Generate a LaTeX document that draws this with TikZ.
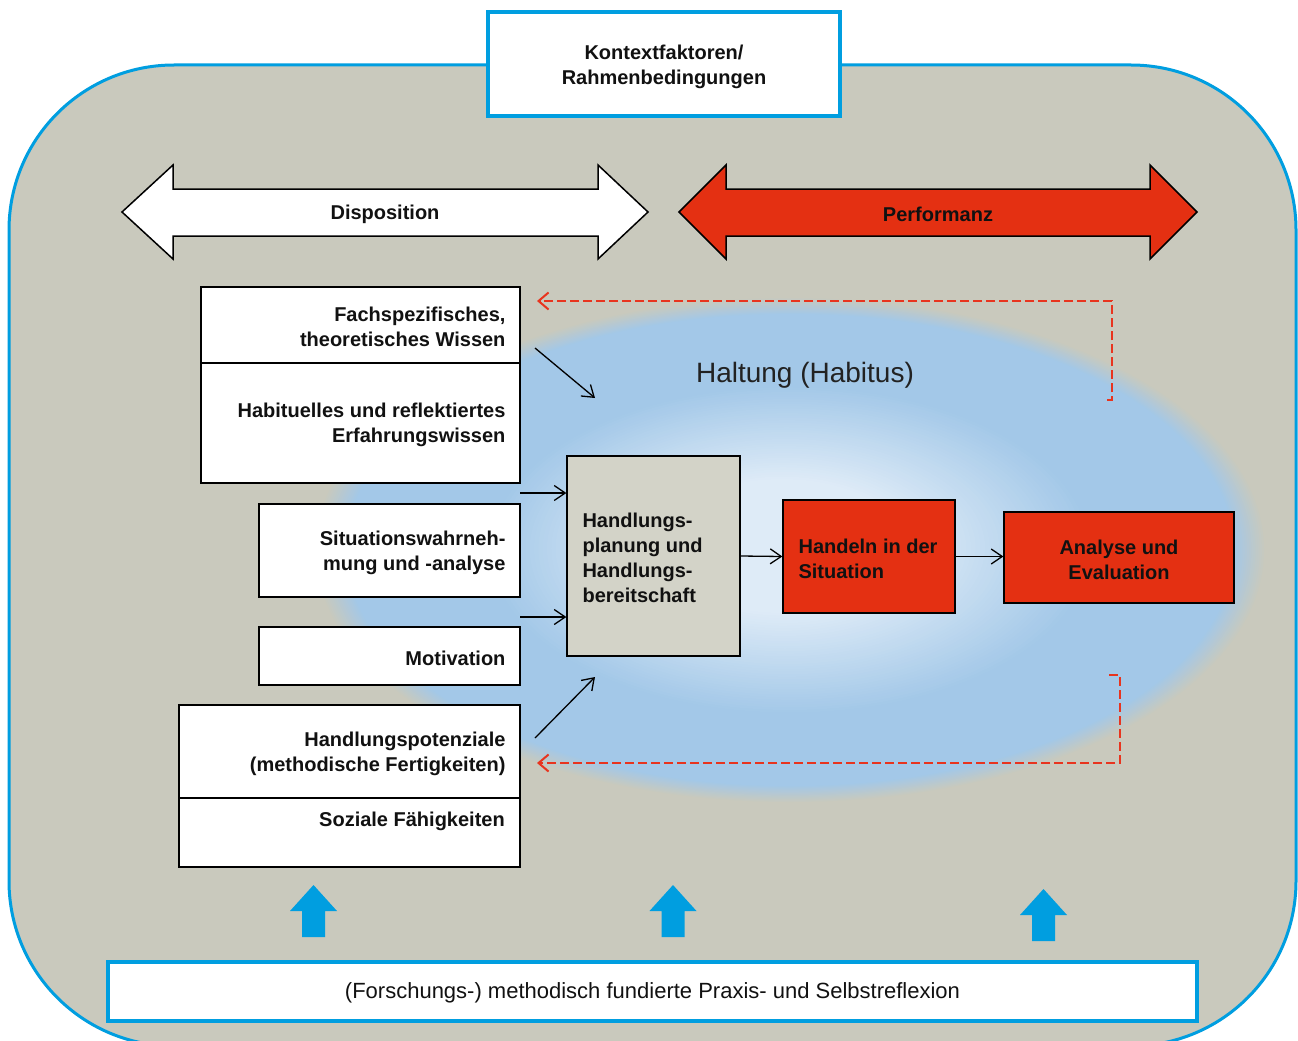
\documentclass[tikz,border=0pt]{standalone}
\usepackage{fontspec}
\setmainfont{Liberation Sans}
\usetikzlibrary{arrows.meta}
\definecolor{bggray}{RGB}{201,201,189}
\definecolor{frameblue}{RGB}{0,158,224}
\definecolor{boxred}{RGB}{228,48,18}
\definecolor{haloblue}{RGB}{163,200,232}
\definecolor{haloinner}{RGB}{222,235,247}
\definecolor{plangray}{RGB}{211,211,200}
\definecolor{dashred}{RGB}{232,52,30}
\definecolor{inktext}{RGB}{17,17,17}
\begin{document}
\begin{tikzpicture}[x=1pt,y=-1pt,
  txt/.style={inner sep=0pt, yshift=-2pt, text=inktext, font=\fontsize{20}{25}\selectfont\bfseries},
  plaintxt/.style={inner sep=0pt, text=inktext, font=\fontsize{20}{25}\selectfont},
  wbox/.style={draw=black, line width=1.3pt, fill=white, inner sep=0pt},
  rbox/.style={draw=black, line width=1.3pt, fill=boxred, inner sep=0pt},
  bluebox/.style={draw=frameblue, line width=3.5pt, fill=white, inner sep=0pt},
  conn/.style={draw=black, line width=1.3pt, -{Straight Barb[length=11pt,width=15pt,line width=1.3pt]}},
  fb/.style={draw=dashred, line width=2pt, dash pattern=on 9pt off 4pt, -{Straight Barb[length=10pt,width=17pt,line width=2pt]}},
  upar/.style={fill=frameblue},
  bigar/.style={draw=black, line width=1.5pt, line join=miter}
]
\useasboundingbox (0,0) rectangle (1298,1041);
\fill[white] (0,0) rectangle (1298,1041);
% outer frame
\draw[frameblue, line width=3pt, fill=bggray, rounded corners=165pt] (9,65) rectangle (1296,1046);
% halo: soft outer rim
\foreach \k in {0,...,14}{
  \pgfmathsetmacro\rr{1-\k*0.0045}
  \pgfmathsetmacro\pp{(\k+1)*100/15}
  \fill[haloblue!\pp!bggray] (790,550) ellipse [x radius={474*\rr pt}, y radius={252*\rr pt}];
}
% halo: light core
\foreach \k in {0,...,40}{
  \pgfmathsetmacro\rr{0.64-\k*0.0095}
  \pgfmathsetmacro\pp{\k*2.5}
  \pgfmathsetmacro\cx{790-\k*0.2}
  \pgfmathsetmacro\cy{550-\k*0.1}
  \fill[haloinner!\pp!haloblue] (\cx,\cy) ellipse [x radius={474*\rr pt}, y radius={258*\rr pt}];
}
\node[plaintxt, font=\fontsize{28}{30}\selectfont, text={rgb,255:red,34;green,34;blue,34}, yshift=-3pt] (haltung) at (805,372) {Haltung (Habitus)};

% context box
\node[bluebox, minimum width=352pt, minimum height=104pt] (ctx) at (664,64) {};
\node[txt, align=center, yshift=-1pt] (ctxt) at (ctx.center) {Kontextfaktoren/\\Rahmenbedingungen};

% big double arrows
\draw[bigar, fill=white] (122,212) -- (173,165) -- (173,189) -- (598,189) -- (598,165) -- (648,212) -- (598,259) -- (598,236) -- (173,236) -- (173,259) -- cycle;
\node[txt] (disp) at (385,212) {Disposition};
\draw[bigar, fill=boxred] (679,212) -- (726,165) -- (726,189) -- (1150,189) -- (1150,165) -- (1197,212) -- (1150,259) -- (1150,236) -- (726,236) -- (726,259) -- cycle;
\node[txt] (perf) at (938,212) {Performanz};

% left boxes
\node[wbox, minimum width=319pt, minimum height=76pt] (fach) at (360.5,325) {};
\node[txt, align=right, anchor=east] (facht) at ([xshift=-15pt]fach.east) {Fachspezifisches,\\theoretisches Wissen};
\node[wbox, minimum width=319pt, minimum height=120pt] (habit) at (360.5,423) {};
\node[txt, align=right, anchor=east] (habitt) at ([xshift=-15pt]habit.east) {Habituelles und reflektiertes\\Erfahrungswissen};
\node[wbox, minimum width=261pt, minimum height=93pt] (sit) at (389.5,550.5) {};
\node[txt, align=right, anchor=east] (sitt) at ([xshift=-15pt]sit.east) {Situationswahrneh-\\mung und -analyse};
\node[wbox, minimum width=261pt, minimum height=58pt] (moti) at (389.5,656) {};
\node[txt, align=right, anchor=east] (motit) at ([xshift=-15pt]moti.east) {Motivation};
\node[wbox, minimum width=341pt, minimum height=93pt] (pot) at (349.5,751.5) {};
\node[txt, align=right, anchor=east] (pott) at ([xshift=-15pt]pot.east) {Handlungspotenziale\\(methodische Fertigkeiten)};
\node[wbox, minimum width=341pt, minimum height=69pt] (soz) at (349.5,832.5) {};
\node[txt, anchor=east] (sozt) at (505,819) {Soziale Fähigkeiten};

% central boxes
\node[wbox, fill=plangray, minimum width=173pt, minimum height=200pt] (plan) at (653.5,556) {};
\node[txt, align=left, anchor=west] (plant) at ([xshift=16pt]plan.west) {Handlungs-\\planung und\\Handlungs-\\bereitschaft};
\node[rbox, minimum width=172pt, minimum height=113pt] (hand) at (869,556.5) {};
\node[txt, align=left, anchor=west] (handt) at ([xshift=16pt]hand.west) {Handeln in der\\Situation};
\node[rbox, minimum width=230pt, minimum height=91pt] (anal) at (1119,557.5) {};
\node[txt, align=center] (analt) at (anal.center) {Analyse und\\Evaluation};

% bottom box
\node[bluebox, minimum width=1089pt, minimum height=59pt] (refl) at (652.5,991.5) {};
\node[plaintxt, font=\fontsize{22}{25}\selectfont, yshift=-1pt] (reflt) at (refl.center) {(Forschungs-) methodisch fundierte Praxis- und Selbstreflexion};

% connectors
\coordinate (c1s) at (535,348); \coordinate (c1e) at (595,398);
\coordinate (c4s) at (535,738); \coordinate (c4e) at (595,677);
\coordinate (c2s) at (520,493);
\coordinate (c3s) at (520,617);
\draw[conn] (c1s) -- (c1e);
\draw[conn] (c2s) -- (c2s -| plan.west);
\draw[conn] (c3s) -- (c3s -| plan.west);
\draw[conn] (c4s) -- (c4e);
\draw[conn] (plan.east) -- (hand.west);
\draw[conn] (hand.east) -- (hand.east -| anal.west);

% feedback dashed
\coordinate (f1a) at (1107,400); \coordinate (f1b) at (1112,400); \coordinate (f1c) at (1112,301); \coordinate (f1d) at (537,301);
\draw[fb] (f1a) -- (f1b) -- (f1c) -- (f1d);
\coordinate (f2a) at (1109,675); \coordinate (f2b) at (1120,675); \coordinate (f2c) at (1120,763); \coordinate (f2d) at (537,763);
\draw[fb] (f2a) -- (f2b) -- (f2c) -- (f2d);

% up arrows
\foreach \cx/\t in {313.5/885, 673/885, 1043.5/889}{
  \fill[upar] (\cx,\t) -- (\cx+23.5,\t+26) -- (\cx+11.5,\t+26) -- (\cx+11.5,\t+52) -- (\cx-11.5,\t+52) -- (\cx-11.5,\t+26) -- (\cx-23.5,\t+26) -- cycle;
}
\end{tikzpicture}
\end{document}
